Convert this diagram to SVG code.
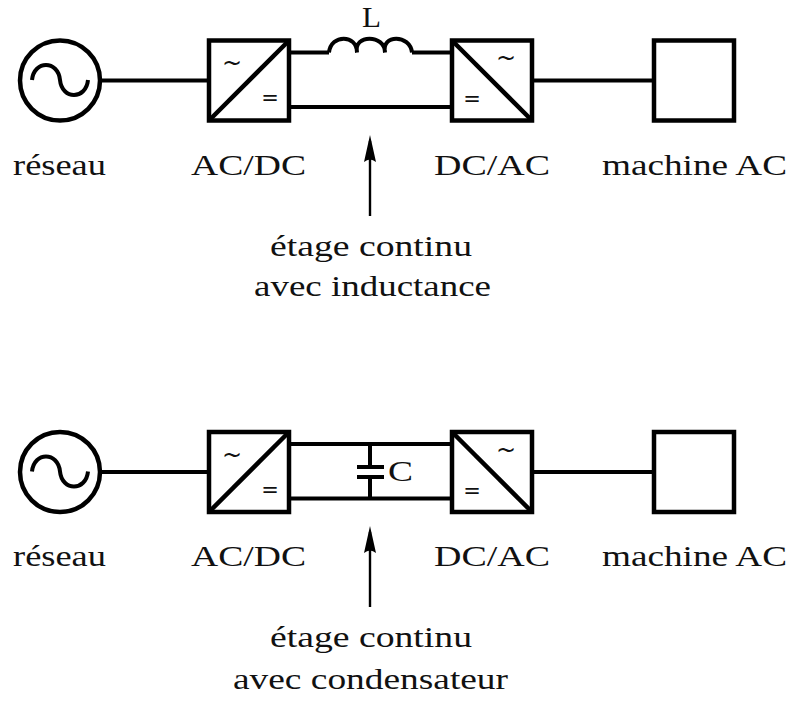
<svg xmlns="http://www.w3.org/2000/svg" width="804" height="704" viewBox="0 0 804 704">
<style>
.s{fill:none;stroke:#000;stroke-width:4.5}
.w{fill:none;stroke:#000;stroke-width:4}
.a{fill:none;stroke:#000;stroke-width:2.4}
text{font-family:"Liberation Serif","DejaVu Serif",serif;font-size:30px;fill:#111}
.m{font-family:"DejaVu Sans",sans-serif;font-size:21px;text-anchor:middle}
.t{font-family:"DejaVu Sans",sans-serif;font-size:24px;text-anchor:middle}
</style>
<defs>
<marker id="ah" markerUnits="userSpaceOnUse" markerWidth="27" markerHeight="13" refX="21" refY="6.5" orient="auto" viewBox="0 0 27 13"><path d="M27 6.5 L0 0.5 Q5 6.5 0 12.5 Z" fill="#000"/></marker>
</defs>
<rect width="804" height="704" fill="#fff"/>
<g id="connectors">
<path class="w" d="M102 80.500H209M289 52.500H329M412 52.500H452M289 107H452M532 80.500H654"/>
<path class="w" d="M329 52.500C331 34 357 34 357 52.500 M357 52.500C353 34 385 34 385 52.500 M385 52.500C381 34 410 34 412 52.500" id="coil"/>
<path class="a" d="M370 216V141" marker-end="url(#ah)"/>
<path class="w" d="M102 472H209M289 444H452M289 498.500H452M532 472H654"/>
<path class="w" d="M370 444V467M370 477V498.500M357 467H384M357 477H384"/>
<path class="a" d="M370 607V532" marker-end="url(#ah)"/>
</g>
<g id="source1"><circle class="s" cx="60" cy="80.500" r="40"/><path class="w" d="M32 80C34 60 58 60 60 80C62 100 86 100 88 80"/><text x="13" y="175" textLength="93" lengthAdjust="spacingAndGlyphs">réseau</text></g>
<g id="acdc1"><rect class="s" x="209" y="40.500" width="80" height="80"/><path class="s" d="M209 120.500L289 40.500"/><text class="t" x="232" y="71">~</text><text class="m" x="270" y="105">=</text><text x="191" y="175" textLength="115" lengthAdjust="spacingAndGlyphs">AC/DC</text></g>
<g id="dcac1"><rect class="s" x="452" y="40.500" width="80" height="80"/><path class="s" d="M452 40.500L532 120.500"/><text class="t" x="506" y="66">~</text><text class="m" x="472" y="106">=</text><text x="434" y="175" textLength="116" lengthAdjust="spacingAndGlyphs">DC/AC</text></g>
<g id="machine1"><rect class="s" x="654" y="40.500" width="80" height="80"/><text x="602" y="175" textLength="185" lengthAdjust="spacingAndGlyphs">machine AC</text></g>
<g id="labelL"><text x="362" y="27" textLength="19" lengthAdjust="spacingAndGlyphs">L</text></g>
<g id="stage1"><text x="270" y="256" textLength="202" lengthAdjust="spacingAndGlyphs">étage continu</text><text x="254" y="296" textLength="237" lengthAdjust="spacingAndGlyphs">avec inductance</text></g>
<g id="source2"><circle class="s" cx="60" cy="472" r="40"/><path class="w" d="M32 471.500C34 451.500 58 451.500 60 471.500C62 491.500 86 491.500 88 471.500"/><text x="13" y="566" textLength="93" lengthAdjust="spacingAndGlyphs">réseau</text></g>
<g id="acdc2"><rect class="s" x="209" y="432" width="80" height="80"/><path class="s" d="M209 512L289 432"/><text class="t" x="232" y="462.500">~</text><text class="m" x="270" y="496.500">=</text><text x="191" y="566" textLength="115" lengthAdjust="spacingAndGlyphs">AC/DC</text></g>
<g id="dcac2"><rect class="s" x="452" y="432" width="80" height="80"/><path class="s" d="M452 432L532 512"/><text class="t" x="506" y="457.500">~</text><text class="m" x="472" y="497.500">=</text><text x="434" y="566" textLength="116" lengthAdjust="spacingAndGlyphs">DC/AC</text></g>
<g id="machine2"><rect class="s" x="654" y="432" width="80" height="80"/><text x="602" y="566" textLength="185" lengthAdjust="spacingAndGlyphs">machine AC</text></g>
<g id="labelC"><text x="388" y="481" textLength="25" lengthAdjust="spacingAndGlyphs">C</text></g>
<g id="stage2"><text x="270" y="647" textLength="202" lengthAdjust="spacingAndGlyphs">étage continu</text><text x="233" y="689" textLength="275" lengthAdjust="spacingAndGlyphs">avec condensateur</text></g>
</svg>
